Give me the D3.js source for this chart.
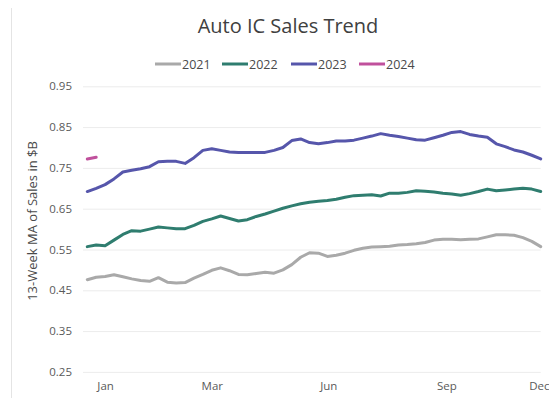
<!DOCTYPE html>
<html>
<head>
<meta charset="utf-8">
<script src="https://cdn.jsdelivr.net/npm/d3@7"></script>
<style>
  html, body { margin: 0; padding: 0; background: #fff; }
  svg { display: block; }
  text { font-family: "Open Sans", "Noto Sans", sans-serif; }
</style>
</head>
<body>
<svg id="chart" width="549" height="398"></svg>
<script>
// 13-week moving average of auto IC sales ($B), weekly, by year
const weeks = d3.range(1, 53);

const sales2021 = [0.476, 0.482, 0.484, 0.488, 0.483, 0.478, 0.474, 0.472, 0.481, 0.470,
  0.468, 0.469, 0.480, 0.489, 0.499, 0.505, 0.498, 0.489, 0.488, 0.491,
  0.494, 0.492, 0.500, 0.513, 0.531, 0.542, 0.541, 0.533, 0.536, 0.541,
  0.548, 0.553, 0.556, 0.557, 0.558, 0.561, 0.562, 0.564, 0.567, 0.573,
  0.575, 0.575, 0.574, 0.575, 0.576, 0.581, 0.586, 0.586, 0.585, 0.579,
  0.570, 0.557];

const sales2022 = [0.557, 0.561, 0.559, 0.573, 0.587, 0.596, 0.595, 0.600, 0.605, 0.603,
  0.601, 0.601, 0.609, 0.619, 0.625, 0.632, 0.626, 0.620, 0.623, 0.631,
  0.637, 0.644, 0.651, 0.657, 0.662, 0.666, 0.668, 0.670, 0.673, 0.678,
  0.682, 0.683, 0.684, 0.681, 0.688, 0.688, 0.690, 0.694, 0.693, 0.691,
  0.688, 0.686, 0.683, 0.687, 0.692, 0.698, 0.694, 0.696, 0.698, 0.700,
  0.698, 0.692];

const sales2023 = [0.692, 0.700, 0.709, 0.723, 0.740, 0.744, 0.748, 0.753, 0.765, 0.766,
  0.766, 0.761, 0.775, 0.793, 0.797, 0.793, 0.789, 0.788, 0.788, 0.788,
  0.788, 0.793, 0.800, 0.817, 0.821, 0.812, 0.809, 0.812, 0.816, 0.816,
  0.818, 0.823, 0.828, 0.834, 0.830, 0.827, 0.823, 0.819, 0.818, 0.824,
  0.830, 0.837, 0.839, 0.832, 0.828, 0.825, 0.809, 0.802, 0.794, 0.789,
  0.781, 0.772];

const sales2024 = [0.772, 0.776];

const seriesNames = ["2021", "2022", "2023", "2024"];
const seriesColors = ["#a9a9a9", "#2f7d6f", "#5656ab", "#c0509c"];
const seriesValues = [sales2021, sales2022, sales2023, sales2024];

const yTicks = [0.25, 0.35, 0.45, 0.55, 0.65, 0.75, 0.85, 0.95];
const monthLabels = ["Jan", "Mar", "Jun", "Sep", "Dec"];
const monthWeeks = [3, 15, 28.1, 41.4, 51.8];

const svg = d3.select("#chart");

const x = d3.scaleLinear().domain([1, 52]).range([87.3, 540.7]);
const y = d3.scaleLinear().domain([0.25, 0.95]).range([371.9, 86.3]);

// faint frame edge at the left
svg.append("line")
  .attr("x1", 11.5).attr("x2", 11.5).attr("y1", 8).attr("y2", 398)
  .attr("stroke", "#e4e4e4").attr("stroke-width", 1);

// title
svg.append("text")
  .attr("x", 288).attr("y", 33)
  .attr("text-anchor", "middle")
  .attr("font-size", 20)
  .attr("fill", "#404040")
  .text("Auto IC Sales Trend");

// legend
const legendX = [155, 222, 291, 359];
const legend = svg.append("g");
seriesNames.forEach((name, i) => {
  const g = legend.append("g").attr("transform", `translate(${legendX[i]},64)`);
  g.append("line").attr("x1", 0).attr("x2", 26).attr("y1", 0).attr("y2", 0)
    .attr("stroke", seriesColors[i]).attr("stroke-width", 3);
  g.append("text").attr("x", 27).attr("y", 4.5)
    .attr("font-size", 12.5).attr("fill", "#4a4a4a").text(name);
});

// y gridlines and axis labels
const yAxis = d3.axisLeft(y).tickValues(yTicks)
  .tickSize(-(x.range()[1] - 83)).tickFormat(d3.format(".2f")).tickPadding(11);
const yg = svg.append("g").attr("transform", "translate(83,0)").call(yAxis);
yg.select(".domain").remove();
yg.selectAll(".tick line").attr("stroke", "#ececec").attr("stroke-width", 1);
yg.selectAll(".tick text").attr("font-size", 11.5).attr("fill", "#5a5a5a")
  .attr("font-family", "'Open Sans', sans-serif");

// x axis labels
const xAxis = d3.axisBottom(x).tickValues(monthWeeks)
  .tickFormat((d, i) => monthLabels[i]).tickSize(0).tickPadding(0);
const xg = svg.append("g").attr("transform", "translate(0,382)").call(xAxis);
xg.select(".domain").remove();
xg.selectAll(".tick text").attr("font-size", 11.5).attr("fill", "#5a5a5a")
  .attr("font-family", "'Open Sans', sans-serif");

// y axis title
svg.append("text")
  .attr("transform", "translate(37,221) rotate(-90)")
  .attr("text-anchor", "middle")
  .attr("font-size", 13)
  .attr("fill", "#4a4a4a")
  .text("13-Week MA of Sales in $B");

// series lines
const line = d3.line().x((d, i) => x(weeks[i])).y(d => y(d)).curve(d3.curveLinear);
seriesValues.forEach((vals, i) => {
  svg.append("path")
    .datum(vals)
    .attr("d", line)
    .attr("fill", "none")
    .attr("stroke", seriesColors[i])
    .attr("stroke-width", 3)
    .attr("stroke-linejoin", "round")
    .attr("stroke-linecap", "round");
});
</script>
</body>
</html>
